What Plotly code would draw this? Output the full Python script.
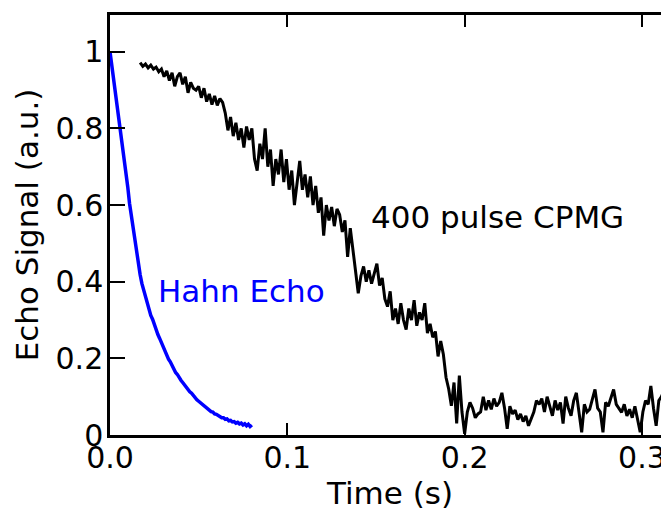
import plotly.graph_objects as go

# ---- data ----
hahn_t0 = 0.0
hahn_dt = 0.001
hahn_signal = [
    1.000, 0.965, 0.935, 0.900, 0.868, 0.835, 0.800, 0.768, 0.728, 0.688,
    0.648, 0.605, 0.572, 0.535, 0.502, 0.470, 0.440, 0.418, 0.395, 0.378,
    0.360, 0.342, 0.330, 0.312, 0.302, 0.286, 0.277, 0.262, 0.252, 0.240,
    0.230, 0.218, 0.210, 0.198, 0.191, 0.180, 0.172, 0.163, 0.158, 0.148,
    0.143, 0.137, 0.130, 0.126, 0.120, 0.113, 0.109, 0.102, 0.098, 0.092,
    0.088, 0.084, 0.080, 0.075, 0.073, 0.068, 0.066, 0.061, 0.060, 0.055,
    0.054, 0.050, 0.049, 0.045, 0.045, 0.041, 0.042, 0.037, 0.038, 0.034,
    0.035, 0.031, 0.033, 0.029, 0.031, 0.026, 0.029, 0.024, 0.028, 0.022,
    0.026,
]

cpmg_t0 = 0.017
cpmg_dt = 0.0015
cpmg_signal = [
    0.972, 0.962, 0.968, 0.958, 0.965, 0.955, 0.960, 0.948, 0.955, 0.935,
    0.950, 0.925, 0.945, 0.910, 0.935, 0.945, 0.915, 0.935, 0.893, 0.920,
    0.905, 0.900, 0.910, 0.880, 0.905, 0.870, 0.890, 0.862, 0.885, 0.860,
    0.878, 0.868, 0.840, 0.795, 0.830, 0.780, 0.815, 0.770, 0.800, 0.750,
    0.805, 0.770, 0.800, 0.720, 0.690, 0.760, 0.720, 0.800, 0.700, 0.745,
    0.650, 0.720, 0.680, 0.745, 0.660, 0.720, 0.640, 0.690, 0.600, 0.665,
    0.715, 0.640, 0.680, 0.620, 0.675, 0.600, 0.650, 0.580, 0.620, 0.520,
    0.600, 0.560, 0.595, 0.545, 0.590, 0.575, 0.530, 0.560, 0.465, 0.540,
    0.480, 0.420, 0.370, 0.415, 0.440, 0.400, 0.430, 0.395, 0.420, 0.447,
    0.390, 0.410, 0.355, 0.335, 0.375, 0.300, 0.330, 0.290, 0.344, 0.300,
    0.275, 0.330, 0.300, 0.352, 0.285, 0.320, 0.300, 0.344, 0.266, 0.290,
    0.255, 0.270, 0.205, 0.245, 0.210, 0.150, 0.120, 0.076, 0.137, 0.030,
    0.155, 0.060, 0.003, 0.060, 0.085, 0.070, 0.045, 0.055, 0.060, 0.100,
    0.065, 0.090, 0.067, 0.095, 0.075, 0.085, 0.110, 0.070, 0.016, 0.075,
    0.055, 0.065, 0.040, 0.055, 0.035, 0.050, 0.024, 0.045, 0.060, 0.090,
    0.080, 0.095, 0.060, 0.100, 0.075, 0.050, 0.090, 0.065, 0.085, 0.030,
    0.100, 0.070, 0.050, 0.090, 0.110, 0.060, 0.007, 0.080, 0.060, 0.067,
    0.095, 0.119, 0.070, 0.060, 0.007, 0.085, 0.075, 0.100, 0.119, 0.080,
    0.070, 0.059, 0.080, 0.050, 0.067, 0.045, 0.075, 0.040, 0.007, 0.060,
    0.090, 0.080, 0.128, 0.070, 0.024, 0.090, 0.100, 0.119, 0.095, 0.085,
    0.100,
]

x_tickvals = [0.0, 0.1, 0.2, 0.3]
x_ticktext = ["0.0", "0.1", "0.2", "0.3"]
y_tickvals = [0.0, 0.2, 0.4, 0.6, 0.8, 1.0]
y_ticktext = ["0", "0.2", "0.4", "0.6", "0.8", "1"]

label_cpmg = "400 pulse CPMG"
label_hahn = "Hahn Echo"

FONT = "DejaVu Sans"

fig = go.Figure()
fig.add_trace(go.Scatter(
    x0=cpmg_t0, dx=cpmg_dt, y=cpmg_signal, mode="lines",
    line=dict(color="black", width=3), showlegend=False, hoverinfo="skip",
))
fig.add_trace(go.Scatter(
    x0=hahn_t0, dx=hahn_dt, y=hahn_signal, mode="lines",
    line=dict(color="#0000ff", width=3.5), showlegend=False, hoverinfo="skip",
    yaxis="y2",
))

fig.add_annotation(x=0.2188, y=0.570, text=label_cpmg, showarrow=False,
                   font=dict(family=FONT, size=31, color="black"))
fig.add_annotation(x=0.0739, y=0.376, text=label_hahn, showarrow=False,
                   font=dict(family=FONT, size=31, color="#0000ff"))

tick_font = dict(family=FONT, size=30, color="black")
title_font = dict(family=FONT, size=31, color="black")
fig.update_layout(
    width=669, height=508,
    margin=dict(l=102, r=7, t=4, b=81),
    paper_bgcolor="white", plot_bgcolor="white",
    font=dict(family=FONT, color="black"),
    xaxis=dict(
        range=[0, 0.3158], tickvals=x_tickvals, ticktext=x_ticktext,
        ticks="inside", ticklen=12, tickwidth=2, tickcolor="black",
        showline=True, linewidth=2.5, linecolor="black", mirror="ticks",
        showgrid=False, zeroline=False, tickfont=tick_font,
        ticklabelstandoff=-6,
        title=dict(text="Time (s)", font=title_font, standoff=8),
    ),
    yaxis=dict(
        range=[0, 1.096], tickvals=y_tickvals, ticktext=y_ticktext,
        ticks="inside", ticklen=15, tickwidth=2, tickcolor="black",
        showline=True, linewidth=2.5, linecolor="black", mirror=False,
        showgrid=False, zeroline=False, tickfont=tick_font,
        ticklabelstandoff=-2,
        title=dict(text="Echo Signal (a.u.)", font=title_font, standoff=8),
    ),
    yaxis2=dict(
        range=[0, 1.096], overlaying="y", side="right", tickvals=y_tickvals,
        ticks="inside", ticklen=8, tickwidth=2, tickcolor="black",
        showline=False, showticklabels=False, showgrid=False, zeroline=False,
    ),
)

fig.write_html("out.html")
